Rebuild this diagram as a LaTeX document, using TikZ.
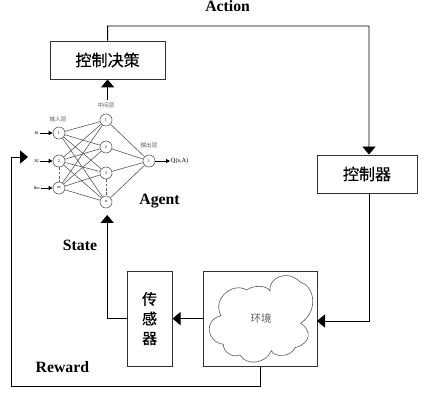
\documentclass[tikz,border=0pt]{standalone}
\usepackage{fontspec}
\setmainfont{Liberation Serif}
\newfontfamily\cjk{Noto Sans CJK SC}
\newfontfamily\cjkbox[FakeBold=0.4]{Noto Sans CJK SC}
\usepackage{tikz}
\usetikzlibrary{arrows.meta,positioning,calc}
\definecolor{linegray}{RGB}{50,50,50}
\definecolor{labelgray}{RGB}{95,95,95}
\newcommand{\sigsub}[1]{\raisebox{-0.6pt}{\fontsize{3}{3}\selectfont #1}}
\tikzset{
  box/.style={rectangle,draw=linegray,line width=0.7pt,inner sep=0pt,font=\cjkbox\fontsize{11.4}{13}\selectfont},
  neuron/.style={circle,draw=labelgray,line width=0.45pt,fill=white,minimum size=0.3cm,inner sep=0pt,font=\fontsize{3}{3}\selectfont},
  tag/.style={font=\bfseries\fontsize{11.2}{13}\selectfont},
  smalltag/.style={text=labelgray,font=\cjk\fontsize{4}{5}\selectfont},
  sig/.style={inner sep=0.5pt,font=\fontsize{4.5}{5}\selectfont},
  flow/.style={line width=0.7pt,-{Triangle[length=0.2cm,width=0.33cm]}},
  syn/.style={draw=labelgray,line width=0.45pt},
  inarrow/.style={draw=black,line width=0.6pt,-{Triangle[length=0.1cm,width=0.1cm]}},
  gap/.style={draw=labelgray,line width=0.7pt,dash pattern=on 2pt off 1pt}
}
\begin{document}
\begin{tikzpicture}
\useasboundingbox (0,0) rectangle (11.05,10.125);
\node[box,minimum width=2.875cm,minimum height=0.95cm] (dec) at (2.69,8.625) {控制决策};
\node[box,minimum width=2.5cm,minimum height=0.95cm] (ctrl) at (9.175,5.775) {控制器};
\node[box,minimum width=1.125cm,minimum height=2.375cm,align=center,font=\cjkbox\fontsize{10.7}{14}\selectfont] (sens) at (3.74,2.16) {传\\感\\器};
\node[box,minimum width=2.85cm,minimum height=2.375cm] (env) at (6.5,2.16) {};
% cloud
\begin{scope}[shift={(2.75,3.75)},x=0.00833cm,y=-0.00833cm]
\draw[labelgray,line width=0.45pt] (480,108) .. controls (475,70) and (530,40) .. (572,82)
  .. controls (610,90) and (630,165) .. (572,205)
  .. controls (605,225) and (605,265) .. (555,278)
  .. controls (545,305) and (495,310) .. (484,287)
  .. controls (470,325) and (410,335) .. (390,300)
  .. controls (365,310) and (340,290) .. (340,268)
  .. controls (290,260) and (280,195) .. (333,182)
  .. controls (305,130) and (370,80) .. (410,105)
  .. controls (430,90) and (470,90) .. (480,108) -- cycle;
\end{scope}
\node[text=labelgray,font=\cjk\fontsize{7.5}{9}\selectfont] (envtext) at (6.53,2.16) {环境};
% network
\node[neuron] (in1) at (1.475,6.8) {1};
\node[neuron] (in2) at (1.475,6.1) {2};
\node[neuron] (inm) at (1.475,5.425) {m};
\node[neuron] (h1) at (2.65,7.125) {1};
\node[neuron] (h2) at (2.65,6.45) {2};
\node[neuron] (h3) at (2.65,5.8) {3};
\node[neuron] (h4) at (2.65,5.075) {n};
\node[neuron] (o1) at (3.725,6.1) {1};
\node[smalltag] (lin) at (1.45,7.15) {输入层};
\node[smalltag] (lh) at (2.65,7.5) {中间层};
\node[smalltag] (lo) at (3.725,6.48) {输出层};
\node[sig] (s1) at (0.92,6.8) {s\sigsub{1}};
\node[sig] (s2) at (0.92,6.1) {s\sigsub{2}};
\node[sig] (sm) at (0.92,5.425) {s\sigsub{m}};
\node[sig,anchor=west] (q) at (4.25,6.1) {Q(s,A)};
\draw[syn] (in1) -- (h1);
\draw[syn] (in1) -- (h2);
\draw[syn] (in1) -- (h3);
\draw[syn] (in1) -- (h4);
\draw[syn] (in2) -- (h1);
\draw[syn] (in2) -- (h2);
\draw[syn] (in2) -- (h3);
\draw[syn] (in2) -- (h4);
\draw[syn] (inm) -- (h1);
\draw[syn] (inm) -- (h2);
\draw[syn] (inm) -- (h3);
\draw[syn] (inm) -- (h4);
\draw[syn] (h1) -- (o1);
\draw[syn] (h2) -- (o1);
\draw[syn] (h3) -- (o1);
\draw[syn] (h4) -- (o1);
\draw[inarrow] (s1.east) -- (in1.west);
\draw[inarrow] (s2.east) -- (in2.west);
\draw[inarrow] (sm.east) -- (inm.west);
\draw[inarrow] (o1.east) -- (q.west);
\draw[gap] (in2) -- (inm);
\draw[gap] (h3) -- (h4);
% flow lines
\coordinate (nntop) at (2.69,7.625);
\coordinate (nnbot) at (2.68,4.75);
\coordinate (nnin) at (0.7,6.2);
\coordinate (actcorner) at (9.225,9.475);
\coordinate (envin) at (7.925,2.1);
\coordinate (rwcorner) at (0.275,0.475);
\draw[flow] (nntop) -- (dec.south);
\draw[flow] (dec.north) |- (actcorner) -- ($(ctrl.north)+(0.05,0)$);
\draw[flow] ($(ctrl.south)+(0.05,0)$) |- (envin);
\draw[flow] (env.west) -- (sens.east);
\draw[flow] (sens.west) -| (nnbot);
\draw[flow] (env.south) |- (rwcorner) |- (nnin);
\node[tag] (action) at (5.69,9.97) {Action};
\node[tag] (agent) at (3.99,5.1) {Agent};
\node[tag] (state) at (2,3.98) {State};
\node[tag] (reward) at (1.56,0.95) {Reward};
\end{tikzpicture}
\end{document}
